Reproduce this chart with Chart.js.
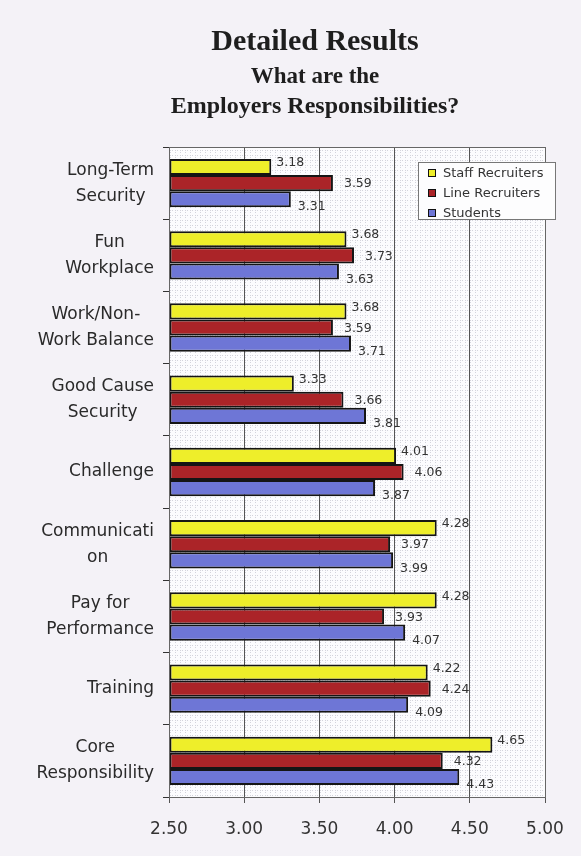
<!DOCTYPE html>
<html>
<head>
<meta charset="utf-8">
<script src="https://cdn.jsdelivr.net/npm/chart.js@4.4.1/dist/chart.umd.min.js"></script>
<style>
  html, body { margin: 0; padding: 0; background: #f4f2f7; }
  #wrap { position: relative; width: 581px; height: 856px; overflow: hidden; }
  #chart { position: absolute; left: 0; top: 0; }
  .ttl { position: absolute; left: 0; width: 630px; text-align: center; color: #1e1e1e;
         font-family: "Liberation Serif", serif; font-weight: bold; line-height: 1; white-space: nowrap; }
</style>
</head>
<body>
<div id="wrap">
  <canvas id="chart" width="581" height="856"></canvas>
  <div class="ttl" style="top:25px;font-size:30px;">Detailed Results</div>
  <div class="ttl" style="top:64px;font-size:23px;">What are the</div>
  <div class="ttl" style="top:93px;font-size:24px;">Employers Responsibilities?</div>
</div>
<script>
// Datos
const categories = [
  ['Long-Term', 'Security'],
  ['Fun', 'Workplace'],
  ['Work/Non-', 'Work Balance'],
  ['Good Cause', 'Security'],
  ['Challenge'],
  ['Communicati', 'on'],
  ['Pay for', 'Performance'],
  ['Training'],
  ['Core', 'Responsibility']
];
const seriesNames = ['Staff Recruiters', 'Line Recruiters', 'Students'];
const staffValues   = [3.18, 3.68, 3.68, 3.33, 4.01, 4.28, 4.28, 4.22, 4.65];
const lineValues    = [3.59, 3.73, 3.59, 3.66, 4.06, 3.97, 3.93, 4.24, 4.32];
const studentValues = [3.31, 3.63, 3.71, 3.81, 3.87, 3.99, 4.07, 4.09, 4.43];
const xTicks = [2.5, 3.0, 3.5, 4.0, 4.5, 5.0];

const colors = ['#eeee2a', '#ab2428', '#6e76d6'];
const labelOffsets = [{ dx: 5, dy: -4 }, { dx: 11, dy: 1 }, { dx: 7, dy: 8 }];

// Fondo punteado del area de trazado
function dotPattern(ctx) {
  const c = document.createElement('canvas');
  c.width = 5; c.height = 5;
  const p = c.getContext('2d');
  p.fillStyle = '#fcfcfe';
  p.fillRect(0, 0, 5, 5);
  p.fillStyle = '#d4d4dc';
  p.fillRect(0, 0, 1, 1);
  p.fillRect(2, 0, 1, 1);
  p.fillRect(0, 2, 1, 1);
  return ctx.createPattern(c, 'repeat');
}

const decorPlugin = {
  id: 'decor',
  beforeDraw(chart) {
    const { ctx, chartArea: a } = chart;
    ctx.save();
    ctx.fillStyle = dotPattern(ctx);
    ctx.fillRect(a.left, a.top, a.right - a.left, a.bottom - a.top);
    ctx.restore();
  },
  afterDraw(chart) {
    const { ctx, chartArea: a } = chart;
    ctx.save();

    // borde del area
    ctx.strokeStyle = '#666';
    ctx.lineWidth = 1;
    ctx.strokeRect(a.left + 0.5, a.top + 0.5, a.right - a.left, a.bottom - a.top);

    // etiquetas de valores
    ctx.font = '12.5px "DejaVu Sans"';
    ctx.fillStyle = '#333';
    ctx.textAlign = 'left';
    ctx.textBaseline = 'middle';
    chart.data.datasets.forEach((ds, di) => {
      const meta = chart.getDatasetMeta(di);
      meta.data.forEach((el, i) => {
        const off = labelOffsets[di];
        ctx.fillText(ds.data[i].toFixed(2), el.x + off.dx, el.y + off.dy);
      });
    });

    // etiquetas de categorias (bloque alineado a la derecha, lineas centradas)
    const yScale = chart.scales.y;
    const labelRight = yScale.right - 15;
    ctx.font = '17px "DejaVu Sans"';
    ctx.fillStyle = '#2a2a2a';
    ctx.textAlign = 'center';
    categories.forEach((lines, i) => {
      const yc = yScale.getPixelForValue(i);
      const w = Math.max(...lines.map(l => ctx.measureText(l).width));
      const cx = labelRight - w / 2;
      lines.forEach((l, j) => {
        ctx.fillText(l, cx, yc + (j - (lines.length - 1) / 2) * 26);
      });
    });

    // leyenda dentro del grafico
    const lx = a.right - 127, ly = a.top + 15, lw = 137, lh = 57;
    ctx.fillStyle = '#fdfdfe';
    ctx.fillRect(lx, ly, lw, lh);
    ctx.strokeStyle = '#777';
    ctx.strokeRect(lx + 0.5, ly + 0.5, lw, lh);
    ctx.font = '13px "DejaVu Sans"';
    ctx.textAlign = 'left';
    seriesNames.forEach((name, i) => {
      const y = ly + 11 + i * 20;
      ctx.fillStyle = colors[i];
      ctx.fillRect(lx + 10, y - 4, 7, 7);
      ctx.strokeStyle = '#111';
      ctx.strokeRect(lx + 10.5, y - 3.5, 7, 7);
      ctx.fillStyle = '#333';
      ctx.fillText(name, lx + 25, y + 1);
    });
    ctx.restore();
  }
};

const allValues = [staffValues, lineValues, studentValues];

new Chart(document.getElementById('chart'), {
  type: 'bar',
  data: {
    labels: categories,
    datasets: seriesNames.map((name, i) => ({
      label: name,
      data: allValues[i],
      base: xTicks[0],
      backgroundColor: colors[i],
      borderColor: '#151515',
      borderWidth: 2,
      borderSkipped: false,
      categoryPercentage: 0.67,
      barPercentage: 1.0
    }))
  },
  options: {
    indexAxis: 'y',
    responsive: false,
    animation: false,
    devicePixelRatio: 1,
    layout: { padding: { top: 147, right: 36, bottom: 0, left: 0 } },
    scales: {
      x: {
        min: xTicks[0],
        max: xTicks[xTicks.length - 1],
        afterBuildTicks: s => { s.ticks = xTicks.map(v => ({ value: v })); },
        afterFit: s => { s.height = 59; },
        ticks: {
          callback: v => Number(v).toFixed(2),
          font: { family: 'DejaVu Sans', size: 17 },
          color: '#333',
          padding: 16,
          maxRotation: 0
        },
        grid: { color: '#555', lineWidth: 1, tickLength: 6 },
        border: { color: '#555' }
      },
      y: {
        afterFit: s => { s.width = 169; },
        ticks: { display: false },
        grid: { offset: true, drawOnChartArea: false, tickLength: 6, color: '#333' },
        border: { color: '#444' }
      }
    },
    plugins: {
      legend: { display: false },
      tooltip: { enabled: false }
    }
  },
  plugins: [decorPlugin]
});
</script>
</body>
</html>
